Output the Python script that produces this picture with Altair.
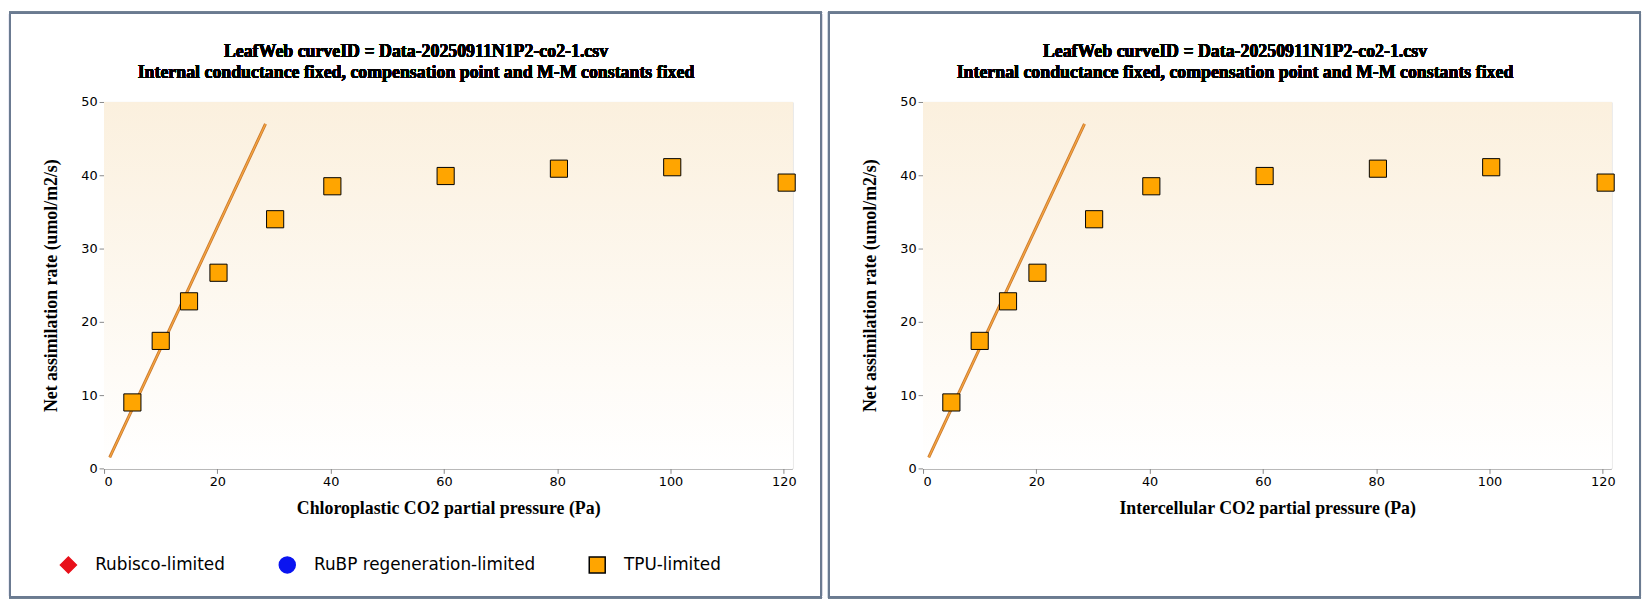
import pandas as pd
import altair as alt

# measured A/Ci points (TPU-limited)
ci = [5.0, 10.0, 15.0, 20.2, 30.2, 40.3, 60.3, 80.3, 100.3, 120.5]
an = [9.0, 17.4, 22.8, 26.7, 34.0, 38.5, 39.9, 40.9, 41.1, 39.0]
# fitted Rubisco line end points
line_x = [1.0, 28.5]
line_y = [1.5, 47.0]

series = ["Rubisco-limited", "RuBP regeneration-limited", "TPU-limited"]
titles = ["Chloroplastic CO2 partial pressure (Pa)", "Intercellular CO2 partial pressure (Pa)"]
head = ["LeafWeb curveID = Data-20250911N1P2-co2-1.csv",
        "Internal conductance fixed, compensation point and M-M constants fixed"]

pts = pd.DataFrame({"x": ci, "y": an, "s": "TPU-limited"})
fit = pd.DataFrame({"x": line_x, "y": line_y})

W, H = 695, 370
serif = "Liberation Serif"
sans = "DejaVu Sans"


def panel(xtitle):
    xs = alt.Scale(domain=[0, 121.5], nice=False)
    ys = alt.Scale(domain=[0, 50], nice=False)
    bg = alt.Chart(pts).mark_rect(
        color=alt.Gradient(gradient="linear", x1=0, y1=0, x2=0, y2=1,
                           stops=[alt.GradientStop(color="#fbf0de", offset=0),
                                  alt.GradientStop(color="#ffffff", offset=1)])
    ).encode(x=alt.value(0), x2=alt.value(W), y=alt.value(0), y2=alt.value(H))
    frame = alt.Chart(pts).mark_rect(fill=None, stroke="#6b7b91", strokeWidth=2, clip=False).encode(
        x=alt.value(-95), x2=alt.value(724), y=alt.value(-90), y2=alt.value(500))
    t1 = alt.Chart(pts).mark_text(text=head[0], font=serif, fontSize=18, fontWeight="bold",
                                  color="#000").encode(x=alt.value(315), y=alt.value(-50))
    t2 = alt.Chart(pts).mark_text(text=head[1], font=serif, fontSize=18, fontWeight="bold",
                                  color="#000").encode(x=alt.value(315), y=alt.value(-29))
    line = alt.Chart(fit).mark_line(color="#c8782e", strokeWidth=3).encode(
        x=alt.X("x:Q", scale=xs), y=alt.Y("y:Q", scale=ys))
    line2 = alt.Chart(fit).mark_line(color="#f7a640", strokeWidth=1.3).encode(
        x=alt.X("x:Q", scale=xs), y=alt.Y("y:Q", scale=ys))
    dots = alt.Chart(pts).mark_point(filled=True, size=300, strokeWidth=1, opacity=1).encode(
        x=alt.X("x:Q", scale=xs, title=xtitle,
                axis=alt.Axis(values=list(range(0, 121, 20)), titlePadding=12)),
        y=alt.Y("y:Q", scale=ys, title="Net assimilation rate (umol/m2/s)",
                axis=alt.Axis(values=list(range(0, 51, 10)), titlePadding=20)),
        shape=alt.Shape("s:N", scale=alt.Scale(domain=series, range=["diamond", "circle", "square"]),
                        legend=alt.Legend(title=None, orient="none", legendX=-45, legendY=458,
                                          direction="horizontal", columnPadding=50,
                                          labelFont=sans, labelFontSize=17, labelColor="#000",
                                          labelLimit=0, symbolSize=260, labelOffset=18)),
        color=alt.Color("s:N", scale=alt.Scale(domain=series, range=["#e8101a", "#0a14f0", "#ffa500"])),
        stroke=alt.Stroke("s:N", scale=alt.Scale(domain=series, range=["#e8101a", "#0a14f0", "#000000"])),
    )
    return alt.layer(bg, frame, t1, t2, line, line2, dots).properties(width=W, height=H)


chart = alt.hconcat(panel(titles[0]), panel(titles[1]), spacing=4).configure(
    padding=0,
    view=alt.ViewConfig(stroke="#bbbbbb"),
    axis=alt.AxisConfig(
        gridColor="#cccccc", domainColor="#888888", tickColor="#888888",
        labelFont=sans, labelFontSize=13, labelColor="#000",
        titleFont=serif, titleFontSize=18, titleFontWeight="bold", titleColor="#000"),
)

chart.save("out.html", embed_options={"renderer": "svg", "actions": False})
